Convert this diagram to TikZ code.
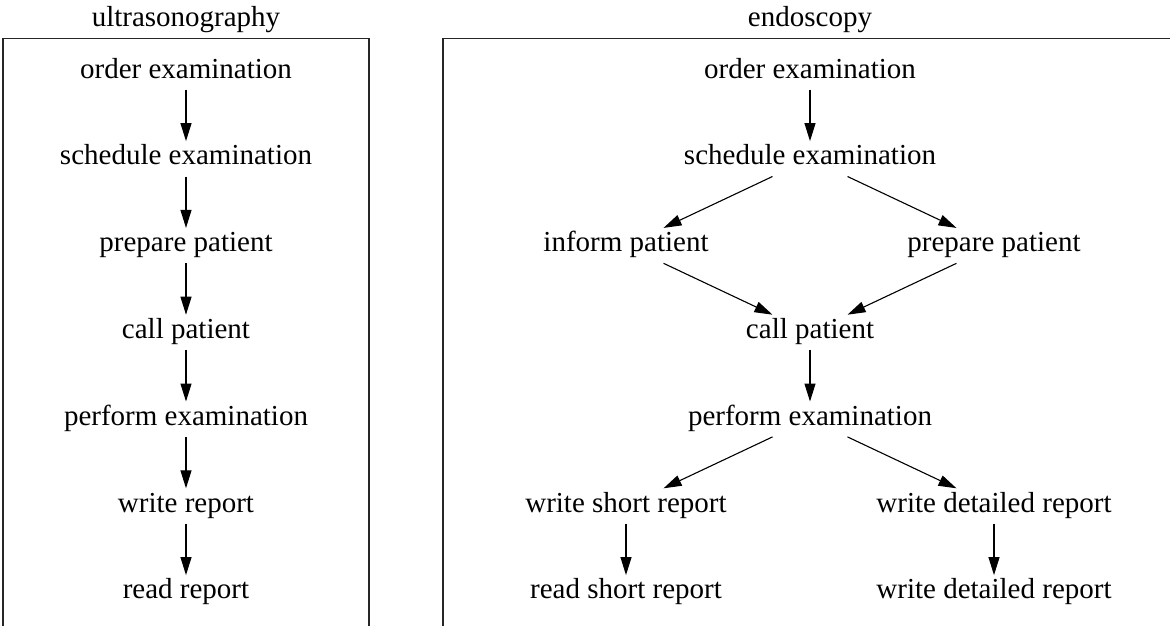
\documentclass[tikz,border=0pt]{standalone}
\usepackage{fontspec}
\setmainfont{Liberation Serif}
\usetikzlibrary{arrows.meta}
\tikzset{
  task/.style={anchor=base, text height=18pt, text depth=6pt, inner xsep=2pt, inner ysep=5.5pt},
  title/.style={anchor=base, inner sep=0pt},
  flow/.style={line width=1.1pt, -{Triangle[length=18pt,width=11pt]}},
  cluster/.style={line width=1.4pt, draw=black!85}
}
\begin{document}
\begin{tikzpicture}[x=1pt, y=-1pt, font=\fontsize{29}{34}\selectfont]
\useasboundingbox (0,0) rectangle (1170,626);
\clip (0,0) rectangle (1170,626);

% cluster frames (open at the bottom of the page)
\draw[cluster] (3,700) -- (3,38.5) -- (369,38.5) -- (369,700);
\draw[cluster] (443,700) -- (443,38.5) -- (1200,38.5);

% titles
\node[title] (tu) at (186,27) {ultrasonography};
\node[title] (te) at (810,27) {endoscopy};

% ultrasonography process
\node[task] (u1) at (186,78)    {order examination};
\node[task] (u2) at (186,164.8) {schedule examination};
\node[task] (u3) at (186,251.6) {prepare patient};
\node[task] (u4) at (186,338.4) {call patient};
\node[task] (u5) at (186,425.2) {perform examination};
\node[task] (u6) at (186,512)   {write report};
\node[task] (u7) at (186,598.8) {read report};

\draw[flow] (u1) -- (u2);
\draw[flow] (u2) -- (u3);
\draw[flow] (u3) -- (u4);
\draw[flow] (u4) -- (u5);
\draw[flow] (u5) -- (u6);
\draw[flow] (u6) -- (u7);

% endoscopy process
\node[task] (e1) at (810,78)    {order examination};
\node[task] (e2) at (810,164.8) {schedule examination};
\node[task] (e3) at (626,251.6) {inform patient};
\node[task] (e4) at (994,251.6) {prepare patient};
\node[task] (e5) at (810,338.4) {call patient};
\node[task] (e6) at (810,425.2) {perform examination};
\node[task] (e7) at (626,512)   {write short report};
\node[task] (e8) at (994,512)   {write detailed report};
\node[task] (e9) at (626,598.8) {read short report};
\node[task] (e10) at (994,598.8) {write detailed report};

\draw[flow] (e1) -- (e2);
\draw[flow] (e2) -- (e3);
\draw[flow] (e2) -- (e4);
\draw[flow] (e3) -- (e5);
\draw[flow] (e4) -- (e5);
\draw[flow] (e5) -- (e6);
\draw[flow] (e6) -- (e7);
\draw[flow] (e6) -- (e8);
\draw[flow] (e7) -- (e9);
\draw[flow] (e8) -- (e10);
\end{tikzpicture}
\end{document}
